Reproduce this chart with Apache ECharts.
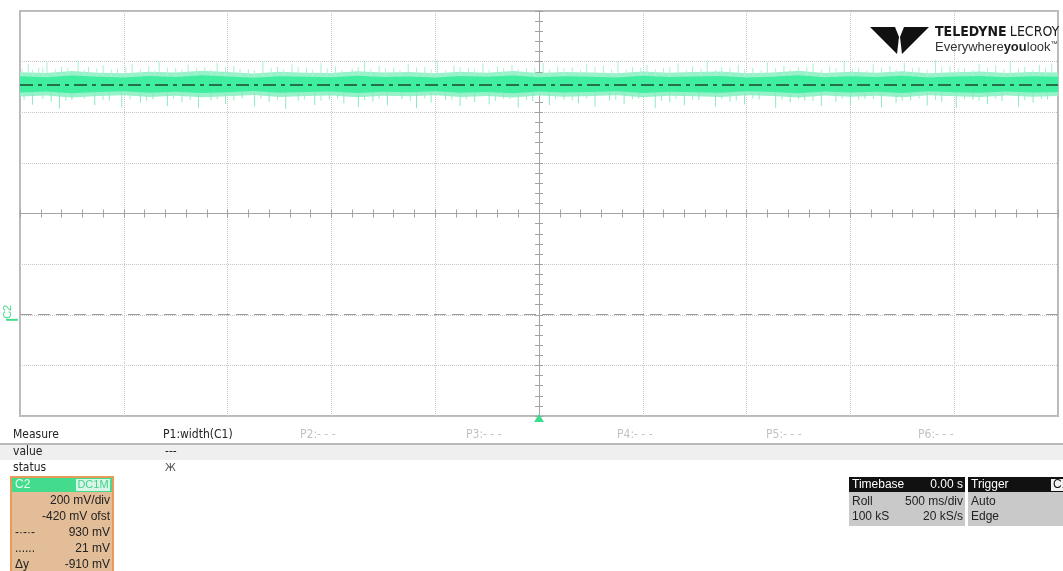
<!DOCTYPE html>
<html>
<head>
<meta charset="utf-8">
<script src="https://cdn.jsdelivr.net/npm/echarts/dist/echarts.min.js"></script>
<style>
  html, body { margin: 0; padding: 0; background: #ffffff; }
  #chart { width: 1063px; height: 571px; }
</style>
</head>
<body>
<div id="chart"></div>
<script>
// Channel C2, roll mode: 500 ms/div, 200 mV/div, -420 mV offset
const voltsPerDiv = 200;          // mV per division
const offsetMv = -420;            // channel offset
const timeRange = [-2.5, 2.5];    // s, 10 divisions of 500 ms
const triggerTime = 0;

// Horizontal cursors (mV)
const cursorDashDot = 930;
const cursorDotted = 21;

// Noise band envelope of the C2 trace (mV), sampled every 125 ms
const bandTimes = [-2.5, -2.375, -2.25, -2.125, -2.0, -1.875, -1.75, -1.625, -1.5, -1.375, -1.25,
                   -1.125, -1.0, -0.875, -0.75, -0.625, -0.5, -0.375, -0.25, -0.125, 0.0,
                   0.125, 0.25, 0.375, 0.5, 0.625, 0.75, 0.875, 1.0, 1.125, 1.25,
                   1.375, 1.5, 1.625, 1.75, 1.875, 2.0, 2.125, 2.25, 2.375, 2.5];
const coreHigh = [962, 958, 965, 960, 957, 963, 959, 966, 961, 956, 962, 960, 958, 964, 959, 961, 957, 963, 960, 965, 958,
                  962, 960, 957, 964, 959, 961, 963, 957, 960, 966, 958, 962, 959, 964, 957, 961, 963, 958, 962, 960];
const coreLow  = [898, 902, 895, 900, 903, 897, 901, 896, 899, 904, 897, 900, 902, 896, 901, 899, 903, 897, 900, 895, 902,
                  898, 900, 903, 896, 901, 899, 897, 903, 900, 895, 902, 898, 901, 896, 903, 899, 897, 902, 898, 900];
const hazeHigh = [978, 975, 983, 976, 974, 980, 977, 984, 979, 973, 980, 976, 975, 982, 977, 979, 974, 980, 976, 983, 975,
                  979, 977, 974, 981, 976, 979, 981, 974, 977, 984, 975, 980, 976, 982, 974, 978, 981, 975, 979, 977];
const hazeLow  = [882, 886, 878, 884, 887, 880, 885, 879, 883, 888, 880, 884, 886, 879, 885, 883, 887, 880, 884, 878, 886,
                  881, 884, 887, 879, 885, 883, 880, 887, 884, 878, 886, 881, 885, 879, 887, 883, 880, 886, 881, 884];

// Isolated glitches above the band: [time s, peak mV]
const spikesUp = [
  [-2.46, 1010], [-2.41, 995], [-2.37, 1018], [-2.30, 1000], [-2.22, 1025], [-2.17, 998], [-2.10, 1006],
  [-2.03, 992], [-1.96, 1012], [-1.88, 1002], [-1.83, 1020], [-1.75, 995], [-1.69, 1008], [-1.61, 997],
  [-1.55, 1015], [-1.47, 1003], [-1.40, 990], [-1.33, 1022], [-1.26, 1000], [-1.19, 1009], [-1.12, 996],
  [-1.05, 1014], [-0.98, 1001], [-0.90, 993], [-0.84, 1019], [-0.77, 1004], [-0.70, 997], [-0.63, 1011],
  [-0.55, 999], [-0.49, 1026], [-0.41, 1003], [-0.34, 995], [-0.27, 1013], [-0.20, 1000], [-0.13, 1007],
  [-0.06, 994], [0.02, 1016], [0.09, 1001], [0.16, 997], [0.23, 1010], [0.31, 1003], [0.38, 1021],
  [0.45, 998], [0.52, 1006], [0.60, 994], [0.67, 1013], [0.74, 1002], [0.81, 1024], [0.88, 999],
  [0.96, 1008], [1.03, 995], [1.10, 1017], [1.18, 1003], [1.25, 997], [1.32, 1012], [1.40, 1001],
  [1.47, 1020], [1.54, 996], [1.61, 1009], [1.69, 1003], [1.76, 1015], [1.83, 998], [1.91, 1027],
  [1.98, 1002], [2.05, 994], [2.12, 1011], [2.20, 1004], [2.27, 1018], [2.34, 999], [2.41, 1007], [2.47, 1013]
];
// Shorter glitches just above the band
const spikesUpShort = [
  [-2.49, 992], [-2.44, 988], [-2.39, 998], [-2.33, 990], [-2.27, 996], [-2.19, 987], [-2.13, 994],
  [-2.06, 989], [-1.99, 999], [-1.92, 991], [-1.85, 986], [-1.79, 997], [-1.72, 990], [-1.65, 995],
  [-1.58, 988], [-1.51, 999], [-1.44, 992], [-1.37, 986], [-1.29, 996], [-1.23, 990], [-1.16, 998],
  [-1.09, 988], [-1.02, 993], [-0.95, 987], [-0.87, 999], [-0.81, 991], [-0.74, 995], [-0.67, 988],
  [-0.59, 997], [-0.52, 990], [-0.45, 986], [-0.38, 998], [-0.31, 992], [-0.24, 988], [-0.17, 995],
  [-0.10, 990], [-0.02, 997], [0.05, 989], [0.12, 994], [0.20, 987], [0.27, 999], [0.35, 991],
  [0.42, 988], [0.49, 996], [0.56, 990], [0.63, 998], [0.71, 987], [0.78, 993], [0.85, 989],
  [0.92, 997], [0.99, 991], [1.07, 986], [1.14, 995], [1.21, 990], [1.29, 999], [1.36, 988],
  [1.43, 994], [1.51, 991], [1.58, 986], [1.65, 997], [1.72, 990], [1.80, 995], [1.87, 988],
  [1.94, 998], [2.02, 991], [2.09, 987], [2.16, 996], [2.24, 990], [2.31, 994], [2.38, 988], [2.44, 997]
];
// Isolated glitches below the band: [time s, trough mV]
const spikesDown = [
  [-2.44, 850], [-2.35, 862], [-2.31, 835], [-2.25, 870], [-2.14, 848], [-2.07, 866], [-2.01, 840],
  [-1.92, 858], [-1.86, 872], [-1.79, 845], [-1.72, 860], [-1.64, 838], [-1.58, 868], [-1.51, 852],
  [-1.43, 875], [-1.37, 843], [-1.30, 861], [-1.22, 834], [-1.16, 866], [-1.08, 849], [-1.01, 870],
  [-0.94, 855], [-0.87, 841], [-0.80, 863], [-0.73, 847], [-0.66, 872], [-0.59, 836], [-0.52, 858],
  [-0.45, 869], [-0.38, 844], [-0.31, 861], [-0.24, 851], [-0.17, 874], [-0.10, 839], [-0.03, 864],
  [0.05, 848], [0.12, 870], [0.19, 856], [0.27, 842], [0.34, 866], [0.41, 853], [0.48, 874],
  [0.56, 837], [0.63, 860], [0.70, 847], [0.77, 868], [0.85, 843], [0.92, 862], [0.99, 851],
  [1.06, 871], [1.14, 838], [1.21, 859], [1.28, 866], [1.36, 845], [1.43, 862], [1.50, 849],
  [1.57, 873], [1.65, 840], [1.72, 857], [1.79, 867], [1.87, 846], [1.94, 861], [2.01, 836],
  [2.09, 869], [2.16, 852], [2.23, 864], [2.31, 843], [2.38, 858], [2.45, 871]
];
// Shorter glitches just below the band
const spikesDownShort = [
  [-2.48, 868], [-2.39, 872], [-2.28, 866], [-2.19, 874], [-2.10, 869], [-1.97, 871], [-1.89, 865],
  [-1.76, 873], [-1.68, 868], [-1.55, 872], [-1.47, 866], [-1.34, 874], [-1.26, 869], [-1.13, 871],
  [-1.05, 865], [-0.97, 873], [-0.84, 868], [-0.77, 872], [-0.62, 866], [-0.55, 874], [-0.42, 869],
  [-0.35, 871], [-0.21, 865], [-0.14, 873], [-0.06, 868], [0.08, 872], [0.16, 866], [0.23, 874],
  [0.37, 869], [0.45, 871], [0.59, 865], [0.66, 873], [0.74, 868], [0.88, 872], [0.95, 866],
  [1.03, 874], [1.17, 869], [1.25, 871], [1.32, 865], [1.46, 873], [1.54, 868], [1.61, 872],
  [1.75, 866], [1.83, 874], [1.91, 869], [2.05, 871], [2.12, 865], [2.20, 873], [2.34, 868], [2.42, 872]
];

// Measurement table and status panels
const measureSlots = ['P1:width(C1)', 'P2:- - -', 'P3:- - -', 'P4:- - -', 'P5:- - -', 'P6:- - -'];
const channelLines = ['200 mV/div', '-420 mV ofst', '930 mV', '21 mV', '-910 mV'];
const channelKeys = ['', '', '-·-·-', '......', 'Δy'];

// ---------------------------------------------------------------
const toScreen = mv => mv + offsetMv;   // value shown on the graticule
const fullDiv = voltsPerDiv * 4;

const traceGreen = '#3fef9f';
const hazeGreen = '#95f2c9';
const gridGray = '#c6c6c6';
const axisGray = '#a3a3a3';

const chart = echarts.init(document.getElementById('chart'), null, { renderer: 'canvas' });

function envelopeRender(high, low, fill) {
  return function (params, api) {
    const pts = [];
    for (let i = 0; i < bandTimes.length; i++) pts.push(api.coord([bandTimes[i], toScreen(high[i])]));
    for (let i = bandTimes.length - 1; i >= 0; i--) pts.push(api.coord([bandTimes[i], toScreen(low[i])]));
    return { type: 'polygon', shape: { points: pts }, style: { fill: fill } };
  };
}

function spikeRender(color) {
  return function (params, api) {
    const a = api.coord([api.value(0), api.value(1)]);
    const b = api.coord([api.value(0), api.value(2)]);
    return { type: 'line', shape: { x1: a[0], y1: a[1], x2: b[0], y2: b[1] },
             style: { stroke: color, lineWidth: 1 } };
  };
}

function spikeSeries(name, list, base, color) {
  return { type: 'custom', name: name, coordinateSystem: 'cartesian2d', clip: true, silent: true, z: 3,
    data: list.map(d => [d[0], toScreen(base), toScreen(d[1])]),
    encode: { x: 0, y: [1, 2] }, renderItem: spikeRender(color) };
}

function centerAxis(dim, position, splitShow) {
  const ax = {
    type: 'value', position: position, axisLabel: { show: false },
    axisLine: { show: true, onZero: true, lineStyle: { color: axisGray, width: 1 } },
    axisTick: { show: true, length: 4, lineStyle: { color: axisGray } },
    minorTick: { show: true, splitNumber: 5, length: 4, lineStyle: { color: axisGray } },
    splitLine: { show: splitShow, lineStyle: { type: 'dotted', color: gridGray, width: 1 } }
  };
  if (dim === 'x') { ax.min = timeRange[0]; ax.max = timeRange[1]; ax.interval = 0.5; }
  else { ax.min = -fullDiv; ax.max = fullDiv; ax.interval = voltsPerDiv; }
  return ax;
}

const bandTop = coreHigh.reduce((a, b) => a + b, 0) / coreHigh.length;
const bandBottom = coreLow.reduce((a, b) => a + b, 0) / coreLow.length;

const tableFont = '12px "DejaVu Sans Condensed", "DejaVu Sans", sans-serif';
const panelFont = '12px "Liberation Sans", Arial, sans-serif';

function txt(x, y, text, opts) {
  opts = opts || {};
  return {
    type: 'text', x: x, y: y, silent: true, z: 10,
    style: {
      text: text, font: opts.font || tableFont, fill: opts.fill || '#222222',
      textAlign: opts.align || 'left', textVerticalAlign: 'middle'
    }
  };
}

const graphics = [];
// measurement table
graphics.push({ type: 'rect', shape: { x: 0, y: 443, width: 1063, height: 2 }, style: { fill: '#b9b9b9' }, silent: true });
graphics.push({ type: 'rect', shape: { x: 0, y: 445, width: 1063, height: 15 }, style: { fill: '#efefef' }, silent: true });
graphics.push(txt(13, 435, 'Measure'));
graphics.push(txt(13, 452, 'value'));
graphics.push(txt(13, 468, 'status'));
const slotX = [163, 300, 466, 617, 766, 918];
measureSlots.forEach((s, i) => graphics.push(txt(slotX[i], 435, s, { fill: i === 0 ? '#222222' : '#c2c2c2' })));
graphics.push(txt(165, 452, '---'));
graphics.push(txt(165, 468, 'Ж', { font: '10px "DejaVu Sans", sans-serif', fill: '#555555' }));

// C2 channel descriptor
graphics.push({ type: 'rect', shape: { x: 11, y: 477, width: 102, height: 100 },
  style: { fill: '#e2bd97', stroke: '#e79b58', lineWidth: 2 }, silent: true });
graphics.push({ type: 'rect', shape: { x: 12, y: 478, width: 100, height: 14 }, style: { fill: '#43dc8d' }, silent: true });
graphics.push(txt(15, 485, 'C2', { font: panelFont, fill: '#e9fff3' }));
graphics.push({ type: 'rect', shape: { x: 76, y: 479, width: 34, height: 12 }, style: { fill: '#d8f6e7' }, silent: true });
graphics.push(txt(93, 485, 'DC1M', { font: '11px "Liberation Sans", Arial, sans-serif', fill: '#43d08a', align: 'center' }));
channelLines.forEach((s, i) => {
  const y = 501 + i * 16;
  graphics.push(txt(110, y, s, { font: panelFont, align: 'right' }));
  if (channelKeys[i]) graphics.push(txt(15, y, channelKeys[i], { font: panelFont }));
});

// Timebase / Trigger panels
graphics.push({ type: 'rect', shape: { x: 849, y: 477, width: 116, height: 49 }, style: { fill: '#c9c9c9' }, silent: true });
graphics.push({ type: 'rect', shape: { x: 849, y: 477, width: 116, height: 15 }, style: { fill: '#111111' }, silent: true });
graphics.push({ type: 'rect', shape: { x: 968, y: 477, width: 95, height: 49 }, style: { fill: '#c9c9c9' }, silent: true });
graphics.push({ type: 'rect', shape: { x: 968, y: 477, width: 95, height: 15 }, style: { fill: '#111111' }, silent: true });
graphics.push({ type: 'rect', shape: { x: 1051, y: 479, width: 14, height: 12 }, style: { fill: '#f2f2f2' }, silent: true });
graphics.push(txt(852, 485, 'Timebase', { font: panelFont, fill: '#ffffff' }));
graphics.push(txt(963, 485, '0.00 s', { font: panelFont, fill: '#ffffff', align: 'right' }));
graphics.push(txt(852, 502, 'Roll', { font: panelFont }));
graphics.push(txt(963, 502, '500 ms/div', { font: panelFont, align: 'right' }));
graphics.push(txt(852, 517, '100 kS', { font: panelFont }));
graphics.push(txt(963, 517, '20 kS/s', { font: panelFont, align: 'right' }));
graphics.push(txt(971, 485, 'Trigger', { font: panelFont, fill: '#ffffff' }));
graphics.push(txt(1053, 485, 'C1', { font: panelFont, fill: '#111111' }));
graphics.push(txt(971, 502, 'Auto', { font: panelFont }));
graphics.push(txt(971, 517, 'Edge', { font: panelFont }));

// Teledyne LeCroy logo
graphics.push({ type: 'polygon', silent: true, z: 10,
  shape: { points: [[870, 27], [895, 27], [899, 37], [897, 54]] }, style: { fill: '#111111' } });
graphics.push({ type: 'polygon', silent: true, z: 10,
  shape: { points: [[929, 27], [904, 27], [900, 37], [902, 54]] }, style: { fill: '#111111' } });
graphics.push({ type: 'text', x: 935, y: 32, silent: true, z: 10,
  style: { text: '{b|TELEDYNE} {r|LECROY}', textVerticalAlign: 'middle',
    rich: { b: { font: 'bold 14px "DejaVu Sans Condensed", sans-serif', fill: '#1a1a1a' },
            r: { font: '14px "DejaVu Sans Condensed", sans-serif', fill: '#1a1a1a' } } } });
graphics.push({ type: 'text', x: 935, y: 47, silent: true, z: 10,
  style: { text: '{n|Everywhere}{b|you}{n|look}{s|™}', textVerticalAlign: 'middle',
    rich: { n: { font: '13px "Liberation Sans", Arial, sans-serif', fill: '#333333' },
            b: { font: 'bold 13px "Liberation Sans", Arial, sans-serif', fill: '#222222' },
            s: { font: '7px "Liberation Sans", Arial, sans-serif', fill: '#333333', verticalAlign: 'top' } } } });

const option = {
  animation: false,
  backgroundColor: '#ffffff',
  grid: { left: 20, top: 11, width: 1038, height: 405, show: true, borderColor: '#b8b8b8', borderWidth: 2, backgroundColor: '#ffffff' },
  xAxis: [centerAxis('x', 'bottom', true), centerAxis('x', 'top', false)],
  yAxis: [centerAxis('y', 'left', true), centerAxis('y', 'right', false)],
  series: [
    { type: 'custom', name: 'C2 haze', coordinateSystem: 'cartesian2d', data: [[0, 0]], clip: true,
      renderItem: envelopeRender(hazeHigh, hazeLow, hazeGreen), z: 3, silent: true },
    spikeSeries('C2 up', spikesUp, bandTop, '#a8efd0'),
    spikeSeries('C2 up short', spikesUpShort, bandTop, '#b2f1d6'),
    spikeSeries('C2 down', spikesDown, bandBottom, '#8fe8c0'),
    spikeSeries('C2 down short', spikesDownShort, bandBottom, '#9eecc9'),
    { type: 'custom', name: 'C2 core', coordinateSystem: 'cartesian2d', data: [[0, 0]], clip: true,
      renderItem: envelopeRender(coreHigh, coreLow, traceGreen), z: 4, silent: true },
    { type: 'line', name: 'cursors', data: [], z: 6, silent: true,
      markLine: { silent: true, symbol: 'none', label: { show: false }, animation: false,
        data: [
          { yAxis: toScreen(cursorDashDot), lineStyle: { type: [13, 5, 4, 5], color: '#23704a', width: 2 } },
          { yAxis: toScreen(cursorDotted), lineStyle: { type: [12, 6], color: '#9c9c9c', width: 1 } }
        ] } }
  ],
  graphic: graphics
};
chart.setOption(option);

// Ground reference and trigger position markers on the graticule
const groundY = chart.convertToPixel({ yAxisIndex: 0 }, toScreen(0));
const trigX = chart.convertToPixel({ xAxisIndex: 0 }, triggerTime);
const gridBottom = chart.convertToPixel({ yAxisIndex: 0 }, -fullDiv);
chart.setOption({
  graphic: graphics.concat([
    { type: 'text', x: 8, y: groundY - 8, rotation: Math.PI / 2, silent: true, z: 10,
      style: { text: 'C2', font: '11px "Liberation Sans", Arial, sans-serif', fill: '#43dc8d', textAlign: 'center', textVerticalAlign: 'middle' } },
    { type: 'rect', silent: true, z: 10, shape: { x: 6, y: groundY - 1, width: 12, height: 2 }, style: { fill: '#43dc8d' } },
    { type: 'polygon', silent: true, z: 10,
      shape: { points: [[trigX - 5, gridBottom + 6], [trigX + 5, gridBottom + 6], [trigX, gridBottom - 2]] },
      style: { fill: '#3ddc8c' } }
  ])
});
</script>
</body>
</html>
